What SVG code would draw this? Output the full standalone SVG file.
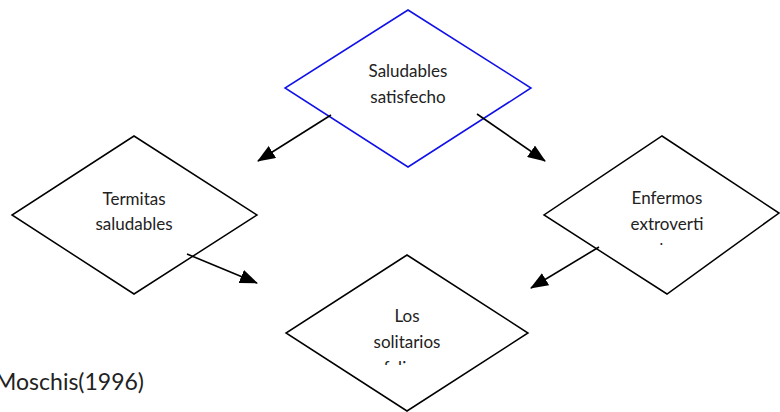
<svg xmlns="http://www.w3.org/2000/svg" width="780" height="412" viewBox="0 0 780 412">
  <style>
    .shape { fill: #ffffff; stroke: #000000; stroke-width: 1.5; }
    .blue { stroke: #1010e8; }
    .label { font-family: Lato, "Open Sans", sans-serif; font-size: 17px; fill: #222222; text-anchor: middle; }
    .edge { stroke: #000000; stroke-width: 1.6; fill: none; marker-end: url(#head); }
    .credit { font-family: Lato, "Open Sans", sans-serif; font-size: 23px; fill: #222222; }
  </style>
  <defs>
    <marker id="head" viewBox="0 0 18 14" refX="17" refY="7" markerWidth="18" markerHeight="14" markerUnits="userSpaceOnUse" orient="auto">
      <path d="M0,0 L18,7 L0,14 Z" fill="#000000"/>
    </marker>
    <clipPath id="clipRight"><rect x="600" y="240" width="130" height="5"/></clipPath>
    <clipPath id="clipBottom"><rect x="350" y="360" width="120" height="5"/></clipPath>
  </defs>
  <rect width="780" height="412" fill="#ffffff"/>

  <g id="node-saludables">
    <polygon class="shape blue" points="408,10 531,88 408,167 285,88"/>
    <text class="label" x="408" y="77">Saludables</text>
    <text class="label" x="408" y="103">satisfecho</text>
  </g>

  <g id="node-termitas">
    <polygon class="shape" points="134,136 257,215 134,294 12,215"/>
    <text class="label" x="134" y="205">Termitas</text>
    <text class="label" x="134" y="230">saludables</text>
  </g>

  <g id="node-enfermos">
    <polygon class="shape" points="662,136 779,213 667,294 544,215"/>
    <text class="label" x="667" y="204">Enfermos</text>
    <text class="label" x="667" y="230">extroverti</text>
    <text class="label" x="667" y="256" clip-path="url(#clipRight)">dos</text>
  </g>

  <g id="node-solitarios">
    <polygon class="shape" points="407,255 528,333 407,411 286,333"/>
    <text class="label" x="407" y="322">Los</text>
    <text class="label" x="407" y="348">solitarios</text>
    <text class="label" x="407" y="374" clip-path="url(#clipBottom)">felices</text>
  </g>

  <g id="connectors">
    <line class="edge" x1="331" y1="115" x2="258" y2="161"/>
    <line class="edge" x1="477" y1="114" x2="545" y2="161"/>
    <line class="edge" x1="187" y1="254" x2="257" y2="283"/>
    <line class="edge" x1="599" y1="247" x2="531" y2="288"/>
  </g>

  <text class="credit" x="144" y="390" text-anchor="end">Moschis(1996)</text>
</svg>
